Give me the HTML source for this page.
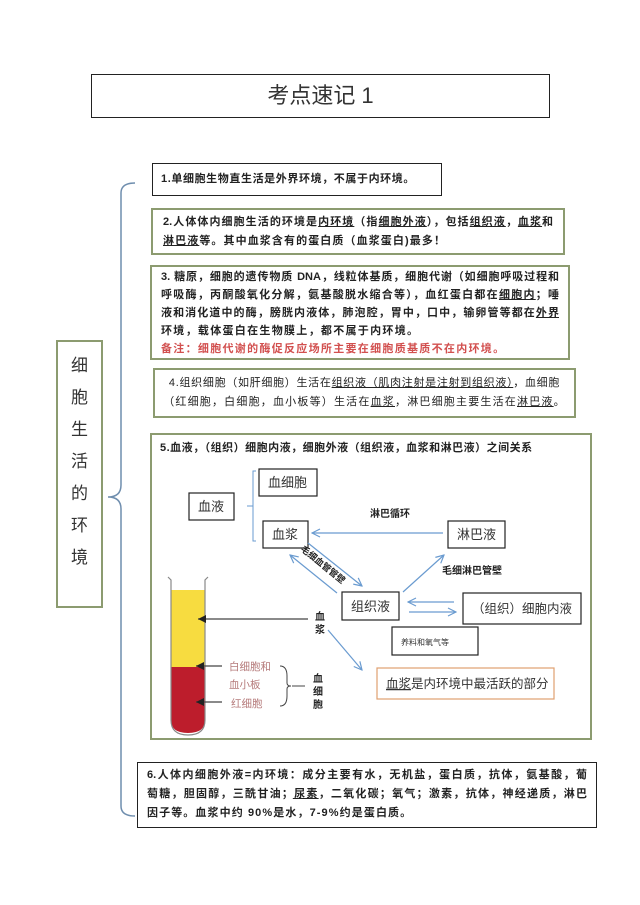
<!DOCTYPE html>
<html><head><meta charset="utf-8"><style>
body{margin:0;width:640px;height:905px;background:#fff;position:relative;font-family:"Liberation Sans","Noto Sans CJK SC",sans-serif;overflow:hidden}
.b{position:absolute;box-sizing:border-box;font-size:11px;font-weight:bold;color:#222;line-height:19px;white-space:nowrap}
.b .l{text-align:justify;text-align-last:justify}
.g{border:2px solid #8c9b70}
.k{border:1.5px solid #222}
u{text-decoration:underline}
</style></head><body>
<div class="b k" style="left:91px;top:74px;width:459px;height:44px;font-size:22px;font-weight:normal;text-align:center;line-height:42px;color:#333">考点速记 1</div>
<div class="b k" style="left:152px;top:163px;width:290px;height:33px;padding:6px 8px;letter-spacing:0.6px">1.单细胞生物直生活是外界环境，不属于内环境。</div>
<div class="b g" style="left:151px;top:208px;width:414px;height:47px;padding:3px 10px;">
<div class="l">2.人体体内细胞生活的环境是<u>内环境</u>（指<u>细胞外液</u>），包括<u>组织液</u>，<u>血浆</u>和</div>
<div style="letter-spacing:1.1px"><u>淋巴液</u>等。其中血浆含有的蛋白质（血浆蛋白)最多！</div></div>
<div class="b g" style="left:150px;top:265px;width:420px;height:95px;padding:1px 9px;line-height:18px">
<div class="l">3. 糖原，细胞的遗传物质 DNA，线粒体基质，细胞代谢（如细胞呼吸过程和</div>
<div class="l">呼吸酶，丙酮酸氧化分解，氨基酸脱水缩合等），血红蛋白都在<u>细胞内</u>；唾</div>
<div class="l">液和消化道中的酶，膀胱内液体，肺泡腔，胃中，口中，输卵管等都在<u>外界</u></div>
<div style="letter-spacing:1.3px">环境，载体蛋白在生物膜上，都不属于内环境。</div>
<div style="color:#d2504f;letter-spacing:1.3px">备注：细胞代谢的酶促反应场所主要在细胞质基质不在内环境。</div></div>
<div class="b g" style="left:153px;top:368px;width:423px;height:50px;padding:4px 8px;text-align:center;font-weight:normal">
<div style="letter-spacing:0.7px">4.组织细胞（如肝细胞）生活在<u>组织液（肌肉注射是注射到组织液）</u>，血细胞</div>
<div style="letter-spacing:1.2px">（红细胞，白细胞，血小板等）生活在<u>血浆</u>，淋巴细胞主要生活在<u>淋巴液</u>。</div></div>
<div class="b g" style="left:150px;top:433px;width:442px;height:307px;padding:4px 8px;letter-spacing:0.5px">5.血液，（组织）细胞内液，细胞外液（组织液，血浆和淋巴液）之间关系</div>
<div class="b k" style="left:137px;top:762px;width:460px;height:66px;padding:3px 9px;">
<div class="l">6.人体内细胞外液=内环境：成分主要有水，无机盐，蛋白质，抗体，氨基酸，葡</div>
<div class="l">萄糖，胆固醇，三酰甘油；<u>尿素</u>，二氧化碳；氧气；激素，抗体，神经递质，淋巴</div>
<div style="letter-spacing:1.1px">因子等。血浆中约 90%是水，7-9%约是蛋白质。</div></div>
<div class="b g" style="left:56px;top:340px;width:47px;height:268px;font-size:17px;font-weight:normal;line-height:32px;text-align:center;padding-top:8px;color:#333">细<br>胞<br>生<br>活<br>的<br>环<br>境</div>
<svg width="640" height="905" style="position:absolute;left:0;top:0" font-family="Liberation Sans, Noto Sans CJK SC, sans-serif">
<defs><marker id="a" markerWidth="10" markerHeight="10" refX="9" refY="5" orient="auto" markerUnits="userSpaceOnUse"><path d="M1 1L9 5L1 9" fill="none" stroke="#6a9bd0" stroke-width="1.2"/></marker>
<marker id="ak" markerWidth="10" markerHeight="10" refX="9" refY="5" orient="auto" markerUnits="userSpaceOnUse"><path d="M1 1L9 5L1 9Z" fill="#222"/></marker></defs>
<path d="M135 183 Q121 183 121 193 L121 485 Q121 497 108 497 Q121 497 121 509 L121 806 Q121 816 135 816" fill="none" stroke="#6f8eae" stroke-width="1.5"/>
<g fill="#fff" stroke="#222" stroke-width="1.2">
<rect x="259" y="469" width="58" height="27"/><rect x="189" y="493" width="45" height="27"/><rect x="263" y="521" width="45" height="27"/>
<rect x="448" y="521" width="57" height="27"/><rect x="342" y="592" width="57" height="28"/><rect x="463" y="593" width="118" height="31"/><rect x="392" y="627" width="86" height="28"/></g>
<rect x="377" y="668" width="177" height="31" fill="#fff" stroke="#e0a070" stroke-width="1.2"/>
<path d="M256 471 L253 471 L253 541 L256 541 M247 506 L253 506" fill="none" stroke="#6a9bd0"/>
<g font-size="13" fill="#333"><text x="268" y="487">血细胞</text><text x="198" y="511">血液</text><text x="272" y="539">血浆</text><text x="457" y="539">淋巴液</text><text x="351" y="611">组织液</text><text x="472" y="613" font-size="12.5">（组织）细胞内液</text><text x="386" y="688" font-size="12.5"><tspan text-decoration="underline">血浆</tspan>是内环境中最活跃的部分</text></g>
<text x="401" y="645" font-size="8" fill="#333">养料和氧气等</text>
<g font-size="10" font-weight="bold" fill="#222"><text x="370" y="517">淋巴循环</text><text x="442" y="574">毛细淋巴管壁</text>
<text transform="translate(300,550) rotate(39)" font-size="9">毛细血管管壁</text>
<text x="315" y="620">血</text><text x="315" y="633">浆</text><text x="313" y="682">血</text><text x="313" y="695">细</text><text x="313" y="708">胞</text></g>
<g stroke="#6a9bd0" stroke-width="1.2" fill="none">
<line x1="443" y1="533" x2="312" y2="533" marker-end="url(#a)"/><line x1="403" y1="592" x2="444" y2="555" marker-end="url(#a)"/>
<line x1="308" y1="543" x2="362" y2="586" marker-end="url(#a)"/><line x1="337" y1="593" x2="290" y2="555" marker-end="url(#a)"/>
<line x1="454" y1="602" x2="408" y2="602" marker-end="url(#a)"/><line x1="409" y1="612" x2="456" y2="612" marker-end="url(#a)"/>
<line x1="328" y1="630" x2="362" y2="670" marker-end="url(#a)"/></g>
<path d="M171 590 L205 590 L205 667 L171 667Z" fill="#f7dc40"/>
<path d="M171 667 L205 667 L205 720 Q205 733 188 733 Q171 733 171 720Z" fill="#bd1d2c"/>
<path d="M168 577 L171 580 L171 720 Q171 735 188 735 Q205 735 205 720 L205 580 L208 577" fill="none" stroke="#888" stroke-width="1.2"/>
<g stroke="#444" stroke-width="1.2"><line x1="308" y1="619" x2="198" y2="619" marker-end="url(#ak)"/><line x1="222" y1="666" x2="196" y2="666" marker-end="url(#ak)"/><line x1="222" y1="702" x2="196" y2="702" marker-end="url(#ak)"/></g>
<g font-size="10.5" fill="#b57a7a"><text x="229" y="670">白细胞和</text><text x="229" y="688">血小板</text><text x="231" y="707">红细胞</text></g>
<path d="M280 666 Q287 666 287 676 L287 683 Q287 686 291 686 Q287 686 287 689 L287 696 Q287 706 280 706 M292 686 L305 686" fill="none" stroke="#444"/>
</svg>
</body></html>
